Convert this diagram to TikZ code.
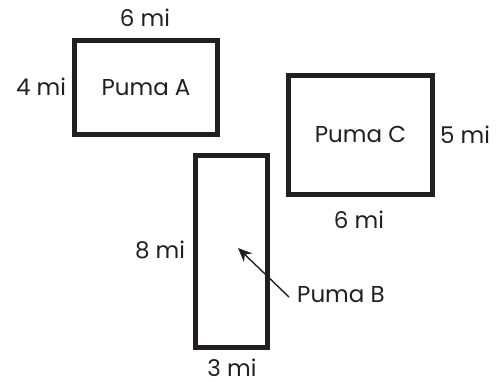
\documentclass[tikz,border=0pt]{standalone}
\usepackage{fontspec}
\setmainfont{Poppins}
\usetikzlibrary{arrows.meta}
\definecolor{ink}{HTML}{231F20}
\tikzset{
  box/.style={draw=ink, line width=5pt, inner sep=0pt, text=ink, font=\fontsize{23}{26}\selectfont},
  lbl/.style={text=ink, inner sep=0pt, font=\fontsize{23}{26}\selectfont},
  pointer/.style={draw=ink, line width=1.4pt, -{Stealth[length=14pt,width=12pt]}}
}
\begin{document}
\begin{tikzpicture}[x=1pt,y=-1pt]
\useasboundingbox (0,0) rectangle (500,381);
\node[box, minimum width=143pt, minimum height=94pt] (A) at (146,87.5) {Puma A};
\node[box, minimum width=144pt, minimum height=119.5pt] (C) at (360.5,134.75) {Puma C};
\node[box, minimum width=71.7pt, minimum height=191.7pt] (B) at (231.7,251.7) {};
\node[lbl] (atop) at (145,18) {6 mi};
\node[lbl] (aleft) at (41,87) {4 mi};
\node[lbl] (cright) at (465,135) {5 mi};
\node[lbl] (cbot) at (359,220) {6 mi};
\node[lbl] (bleft) at (160,250) {8 mi};
\node[lbl] (bbot) at (232,368) {3 mi};
\node[lbl, anchor=west] (pb) at (297,295) {Puma B};
\coordinate (tip) at (238,248);
\draw[pointer] (pb.west) ++(-8,2) coordinate (tail) -- (tip);
\end{tikzpicture}
\end{document}
